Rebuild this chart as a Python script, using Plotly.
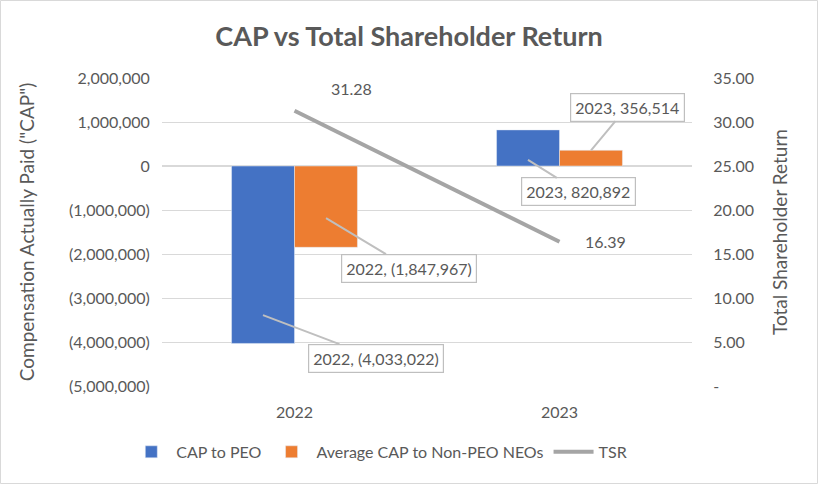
import plotly.graph_objects as go

years = ["2022", "2023"]
cap_peo = [-4033022, 820892]
cap_neo = [-1847967, 356514]
tsr = [31.28, 16.39]

left_ticks = [2000000, 1000000, 0, -1000000, -2000000, -3000000, -4000000, -5000000]
right_ticks = [0, 5, 10, 15, 20, 25, 30, 35]

def fmt_money(v):
    return "({:,})".format(-v) if v < 0 else "{:,}".format(v)

def fmt_tsr(v):
    return "-" if v == 0 else "{:.2f}".format(v)

FONT = "Lato, Carlito, Calibri, sans-serif"
TXT = "#595959"
GRID = "#D9D9D9"

fig = go.Figure()
fig.add_trace(go.Bar(x=years, y=cap_peo, name="CAP to PEO", marker_color="#4472C4"))
fig.add_trace(go.Bar(x=years, y=cap_neo, name="Average CAP to Non-PEO NEOs", marker_color="#ED7D31"))
fig.add_trace(go.Scatter(x=years, y=tsr, name="TSR", mode="lines",
                         line=dict(color="#A5A5A5", width=4), yaxis="y2"))

# TSR data labels
tsr_label_pos = [dict(xshift=34, yshift=22), dict(xshift=23, yshift=0)]
for i, (yr, v) in enumerate(zip(years, tsr)):
    fig.add_annotation(x=i, y=v, yref="y2", text="{:.2f}".format(v), showarrow=False,
                       xanchor="left", font=dict(size=16, color=TXT, family=FONT),
                       **tsr_label_pos[i])

# callout placements: (series values, bar index, bar offset, fraction of value for tip, ax, ay)
callouts = [
    (cap_peo, 0, -0.119, 0.84, 113, 43),
    (cap_neo, 0, 0.119, 0.64, 83, 50),
    (cap_peo, 1, -0.119, 0.17, 51, 32),
    (cap_neo, 1, 0.119, 1.0, 36, -43),
]
for series, i, off, frac, ax, ay in callouts:
    v = series[i]
    fig.add_annotation(x=i + off, y=v * frac, text="{}, {}".format(years[i], fmt_money(v)),
                       showarrow=True, arrowhead=0, arrowwidth=2, arrowcolor="#BFBFBF",
                       ax=ax, ay=ay, bgcolor="white", bordercolor="#BFBFBF", borderwidth=1.2,
                       borderpad=4, font=dict(size=16, color=TXT, family=FONT))

# outer chart border
fig.add_shape(type="rect", xref="paper", yref="paper",
              x0=-161.5 / 530, x1=655.5 / 530, y0=-97.5 / 308, y1=385.5 / 308,
              line=dict(color="#D9D9D9", width=1), layer="below")

fig.update_layout(
    width=818, height=484,
    margin=dict(l=162, r=126, t=78, b=98),
    paper_bgcolor="white", plot_bgcolor="white",
    font=dict(family=FONT, size=16, color=TXT),
    title=dict(text="<b>CAP vs Total Shareholder Return</b>", x=0.5, xref="container",
               xanchor="center", y=1 - 37 / 484, yanchor="middle",
               font=dict(size=27, color=TXT, family=FONT)),
    barmode="group", bargap=0.525, bargroupgap=0,
    showlegend=True,
    legend=dict(orientation="h", x=0.41, xanchor="center", y=-0.214, yanchor="middle",
                font=dict(size=16, color=TXT, family=FONT), itemwidth=40),
    xaxis=dict(type="category", showgrid=False, zeroline=False, showline=False,
               tickfont=dict(size=16, color=TXT), ticks="outside", ticklen=12,
               tickcolor="white"),
    yaxis=dict(range=[-5000000, 2000000], tickvals=left_ticks,
               ticktext=[fmt_money(v) for v in left_ticks],
               showgrid=True, gridcolor=GRID, gridwidth=1, zeroline=True, zerolinecolor=GRID,
               title=dict(text='Compensation Actually Paid ("CAP")', font=dict(size=19, color=TXT),
                          standoff=29),
               tickfont=dict(size=16, color=TXT), ticks="outside", ticklen=8, tickcolor="white"),
    yaxis2=dict(range=[0, 35], overlaying="y", side="right", tickvals=right_ticks,
                ticktext=[fmt_tsr(v) for v in right_ticks], showgrid=False, zeroline=False,
                title=dict(text="Total Shareholder Return", font=dict(size=19, color=TXT),
                           standoff=20),
                tickfont=dict(size=16, color=TXT), ticks="outside", ticklen=17, tickcolor="white"),
)

fig.write_html("out.html")
